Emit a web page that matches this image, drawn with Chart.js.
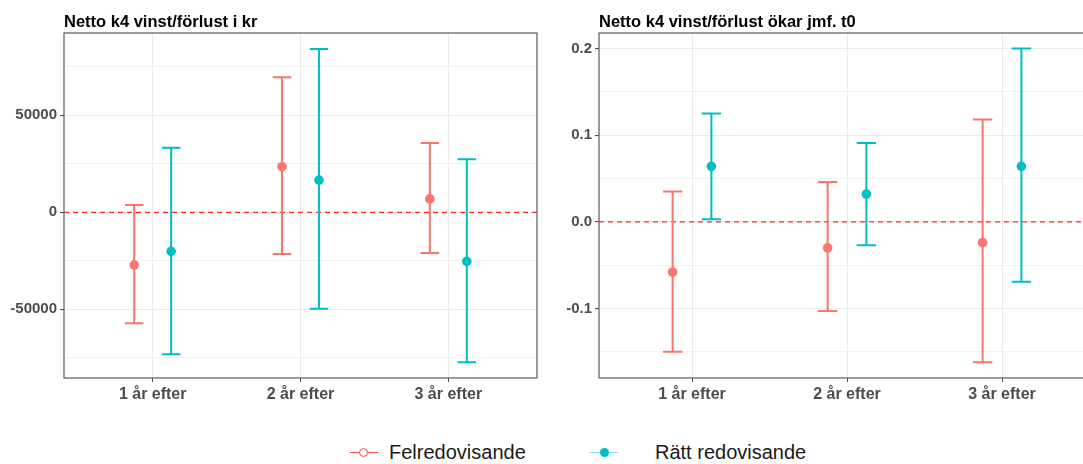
<!DOCTYPE html>
<html>
<head>
<meta charset="utf-8">
<script src="https://cdn.jsdelivr.net/npm/chart.js@4/dist/chart.umd.min.js"></script>
<style>
  html, body { margin: 0; padding: 0; background: #ffffff; overflow: hidden; width: 1083px; height: 464px; }
  #wrap { position: relative; width: 1083px; height: 464px; overflow: hidden; }
  canvas { position: absolute; top: 0; }
  #cKr { left: 0; }
  #cShare { left: 545px; }
  .lg-line { position: absolute; height: 0; width: 28px; top: 452px; }
  .lg-dot { position: absolute; border-radius: 50%; box-sizing: border-box; }
  .lg-text { position: absolute; top: 441px; height: 24px; line-height: 24px;
             font: 20px "Liberation Sans", Arial, sans-serif; color: #1a1a1a; white-space: nowrap; }
</style>
</head>
<body>
<div id="wrap">
  <canvas id="cKr" width="545" height="410"></canvas>
  <canvas id="cShare" width="560" height="410"></canvas>
  <div class="lg-line" style="left:350px;border-top:1.5px solid #ff4a4a;"></div>
  <div class="lg-dot" style="left:359px;top:448px;width:9px;height:9px;border:1.6px solid #ff4a4a;background:#fff;"></div>
  <div class="lg-text" style="left:389px;">Felredovisande</div>
  <div class="lg-line" style="left:590px;border-top:1.5px solid #86e2e4;"></div>
  <div class="lg-dot" style="left:600px;top:448px;width:9px;height:9px;background:#00bfc4;"></div>
  <div class="lg-text" style="left:655px;">Rätt redovisande</div>
</div>
<script>
// Categories on the x axis
const categories = ['1 år efter', '2 år efter', '3 år efter'];

// Panel 1: net result in kronor (estimate with confidence interval)
const krTitle = 'Netto k4 vinst/förlust i kr';
const krFelMean  = [-27200, 23500, 6900];
const krFelLow   = [-57200, -21500, -21000];
const krFelHigh  = [3800, 69600, 35700];
const krRattMean = [-20100, 16600, -25300];
const krRattLow  = [-73200, -49700, -77300];
const krRattHigh = [33300, 84200, 27300];
const krGridTicks  = [-75000, -50000, -25000, 0, 25000, 50000, 75000];
const krLabelTicks = [-50000, 0, 50000];

// Panel 2: share with increased net result compared with t0
const shareTitle = 'Netto k4 vinst/förlust ökar jmf. t0';
const shareFelMean  = [-0.058, -0.030, -0.024];
const shareFelLow   = [-0.150, -0.103, -0.162];
const shareFelHigh  = [0.035, 0.046, 0.118];
const shareRattMean = [0.064, 0.032, 0.064];
const shareRattLow  = [0.003, -0.027, -0.069];
const shareRattHigh = [0.125, 0.091, 0.200];
const shareGridTicks  = [-0.15, -0.1, -0.05, 0, 0.05, 0.1, 0.15, 0.2];
const shareLabelTicks = [-0.1, 0, 0.1, 0.2];

const seriesNames = ['Felredovisande', 'Rätt redovisande'];
const colFel = '#f8766d';
const colRatt = '#00bfc4';
const dodge = 0.125;
const capWidth = 0.125;

const isIn = (list, v) => list.some(t => Math.abs(t - v) < 1e-9);

// Vertical interval bars with caps, plus the dashed zero reference line
const intervalPlugin = {
  id: 'intervals',
  beforeDatasetsDraw(chart) {
    const { ctx, chartArea, scales: { x, y } } = chart;
    ctx.save();
    // zero reference
    ctx.beginPath();
    ctx.rect(chartArea.left, chartArea.top, chartArea.right - chartArea.left, chartArea.bottom - chartArea.top);
    ctx.clip();
    const y0 = y.getPixelForValue(0);
    ctx.setLineDash([5, 4]);
    ctx.strokeStyle = '#ff2b2b';
    ctx.lineWidth = 1.3;
    ctx.beginPath();
    ctx.moveTo(chartArea.left, y0);
    ctx.lineTo(chartArea.right, y0);
    ctx.stroke();
    ctx.setLineDash([]);
    chart.data.datasets.forEach(ds => {
      ctx.strokeStyle = ds.backgroundColor;
      ctx.lineWidth = 2;
      ds.data.forEach((pt, i) => {
        const px = x.getPixelForValue(pt.x);
        const half = (x.getPixelForValue(pt.x + capWidth / 2) - x.getPixelForValue(pt.x - capWidth / 2)) / 2;
        const yl = y.getPixelForValue(ds.errLow[i]);
        const yh = y.getPixelForValue(ds.errHigh[i]);
        ctx.beginPath();
        ctx.moveTo(px, yl); ctx.lineTo(px, yh);
        ctx.moveTo(px - half, yl); ctx.lineTo(px + half, yl);
        ctx.moveTo(px - half, yh); ctx.lineTo(px + half, yh);
        ctx.stroke();
      });
    });
    ctx.restore();
  },
  afterDraw(chart, args, opts) {
    const { ctx, chartArea } = chart;
    ctx.save();
    ctx.strokeStyle = '#5a5a5a';
    ctx.lineWidth = 1.2;
    ctx.strokeRect(chartArea.left, chartArea.top, chartArea.right - chartArea.left, chartArea.bottom - chartArea.top);
    ctx.fillStyle = '#000000';
    ctx.font = 'bold 16.5px "Liberation Sans", Arial, sans-serif';
    ctx.textBaseline = 'alphabetic';
    ctx.textAlign = 'left';
    ctx.fillText(opts.text, chartArea.left, 27);
    ctx.restore();
  }
};

function buildChart(id, cfg) {
  const makeSet = (label, color, mean, low, high, shift) => ({
    label,
    data: mean.map((v, i) => ({ x: i + 1 + shift, y: v })),
    errLow: low,
    errHigh: high,
    backgroundColor: color,
    borderColor: color,
    pointRadius: 4.8,
    pointBorderWidth: 0,
    showLine: false
  });
  return new Chart(document.getElementById(id), {
    type: 'scatter',
    data: {
      datasets: [
        makeSet(seriesNames[0], colFel, cfg.felMean, cfg.felLow, cfg.felHigh, -dodge),
        makeSet(seriesNames[1], colRatt, cfg.rattMean, cfg.rattLow, cfg.rattHigh, dodge)
      ]
    },
    options: {
      responsive: false,
      animation: false,
      devicePixelRatio: 1,
      layout: { padding: { top: 33, right: cfg.padRight, left: 0, bottom: 0 } },
      plugins: {
        legend: { display: false },
        tooltip: { enabled: false },
        intervals: { text: cfg.title }
      },
      scales: {
        x: {
          type: 'linear',
          min: 0.4, max: 3.6,
          afterBuildTicks: axis => { axis.ticks = categories.map((c, i) => ({ value: i + 1 })); },
          afterFit: axis => { axis.height = 32; },
          border: { display: false },
          grid: { color: '#ebebeb', lineWidth: 1, drawTicks: true, tickLength: 4, tickColor: '#4d4d4d' },
          ticks: {
            autoSkip: false, maxRotation: 0, padding: 3,
            color: '#4d4d4d',
            font: { family: '"Liberation Sans", Arial, sans-serif', size: 16, weight: 'bold' },
            callback: v => categories[Math.round(v) - 1]
          }
        },
        y: {
          type: 'linear',
          min: cfg.yMin, max: cfg.yMax,
          afterBuildTicks: axis => { axis.ticks = cfg.gridTicks.map(v => ({ value: v })); },
          afterFit: axis => { axis.width = cfg.yWidth; },
          border: { display: false },
          grid: {
            color: c => (c.tick && isIn(cfg.labelTicks, c.tick.value)) ? '#ebebeb' : '#f1f1f1',
            lineWidth: c => (c.tick && isIn(cfg.labelTicks, c.tick.value)) ? 1.1 : 0.9,
            drawTicks: true, tickLength: 4,
            tickColor: c => (c.tick && isIn(cfg.labelTicks, c.tick.value)) ? '#4d4d4d' : 'rgba(0,0,0,0)'
          },
          ticks: {
            autoSkip: false, padding: 3,
            color: '#4d4d4d',
            font: { family: '"Liberation Sans", Arial, sans-serif', size: 15, weight: 'bold' },
            callback: v => isIn(cfg.labelTicks, v) ? cfg.fmt(v) : ''
          }
        }
      }
    },
    plugins: [intervalPlugin]
  });
}

buildChart('cKr', {
  title: krTitle,
  felMean: krFelMean, felLow: krFelLow, felHigh: krFelHigh,
  rattMean: krRattMean, rattLow: krRattLow, rattHigh: krRattHigh,
  gridTicks: krGridTicks, labelTicks: krLabelTicks,
  yMin: -85400, yMax: 92400, yWidth: 64, padRight: 8,
  fmt: v => String(Math.round(v))
});

buildChart('cShare', {
  title: shareTitle,
  felMean: shareFelMean, felLow: shareFelLow, felHigh: shareFelHigh,
  rattMean: shareRattMean, rattLow: shareRattLow, rattHigh: shareRattHigh,
  gridTicks: shareGridTicks, labelTicks: shareLabelTicks,
  yMin: -0.1802, yMax: 0.2179, yWidth: 54, padRight: 10,
  fmt: v => v.toFixed(1)
});
</script>
</body>
</html>
